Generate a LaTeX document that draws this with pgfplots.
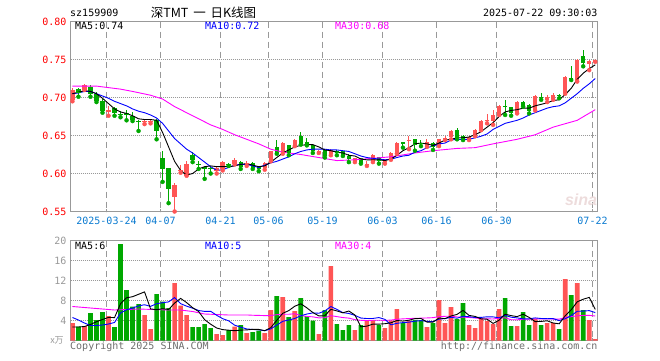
\documentclass[border=0pt]{standalone}
\usepackage{fontspec}
\setmainfont{DejaVu Sans Mono}
\newfontfamily\cjk{Noto Sans CJK SC}
\newfontfamily\lsans{Liberation Sans}
\usepackage{pgfplots}
\usepackage{pgfplotstable}
\pgfplotsset{compat=1.18}
\definecolor{cred}{HTML}{FF5555}
\definecolor{cgreen}{HTML}{00A800}
\definecolor{cdate}{HTML}{0A7AD0}
\definecolor{cblue}{HTML}{0000FF}
\definecolor{cmag}{HTML}{FF00FF}
\definecolor{cgrid}{HTML}{999999}
\definecolor{cframe}{HTML}{999999}
\definecolor{ctext}{HTML}{6E6E6E}
\definecolor{sinac}{HTML}{EDDCDC}
\newcommand\fs{\fontsize{10}{12}\selectfont}

% up (red) candles: index, open, high, low, close, volume (10k)
\pgfplotstableread{
i o h l c v
0 .698 .712 .695 .710 3.5
2 .711 .718 .710 .716 2.9
6 .682 .689 .676 .683 4.9
12 .668 .672 .665 .669 5.1
13 .668 .671 .666 .669 2.3
17 .570 .588 .550 .585 11.5
18 .604 .611 .601 .605 7.0
19 .597 .617 .597 .612 5.1
24 .604 .609 .600 .607 1.3
25 .606 .616 .604 .615 1.1
27 .613 .620 .612 .618 2.8
29 .613 .617 .610 .614 1.5
32 .608 .615 .605 .614 1.5
33 .617 .630 .616 .629 6.1
35 .627 .641 .626 .640 8.7
37 .637 .645 .636 .644 5.9
41 .628 .631 .627 .629 1.3
43 .626 .632 .624 .631 14.9
47 .616 .621 .615 .620 2.1
49 .612 .617 .610 .613 4.0
50 .616 .626 .615 .625 4.1
52 .616 .619 .613 .617 2.5
53 .619 .628 .618 .627 4.0
54 .627 .641 .626 .640 6.3
56 .643 .650 .632 .644 4.0
59 .636 .646 .635 .642 2.7
61 .637 .646 .636 .645 8.1
62 .646 .650 .644 .647 3.5
63 .649 .657 .645 .656 6.7
66 .645 .650 .644 .648 3.1
67 .650 .658 .649 .657 2.5
68 .658 .670 .657 .669 4.3
69 .670 .678 .666 .671 3.9
70 .670 .684 .664 .677 3.3
71 .678 .690 .677 .689 6.3
74 .680 .695 .679 .694 2.9
77 .684 .703 .683 .702 4.3
79 .698 .703 .694 .701 3.5
80 .699 .706 .697 .703 3.5
82 .706 .728 .705 .727 12.3
84 .723 .751 .721 .750 11.5
86 .745 .750 .736 .748 4.1
87 .748 .750 .747 .749 0.3
}\tup

% down (green) candles
\pgfplotstableread{
i o h l c v
1 .711 .712 .701 .707 2.8
3 .714 .716 .701 .705 5.5
4 .705 .707 .694 .696 4.1
5 .696 .698 .680 .683 5.7
7 .686 .687 .676 .680 2.7
8 .678 .682 .674 .677 19.3
9 .679 .683 .670 .678 10.1
10 .676 .681 .669 .671 6.8
11 .669 .670 .656 .668 7.3
14 .671 .672 .645 .656 9.3
15 .620 .629 .589 .607 7.8
16 .607 .607 .561 .580 6.5
20 .625 .628 .615 .618 2.7
21 .613 .617 .606 .612 2.7
22 .608 .609 .593 .607 3.3
23 .607 .610 .600 .606 2.5
26 .613 .614 .610 .612 2.1
28 .615 .616 .606 .609 3.1
30 .614 .615 .606 .608 1.7
31 .609 .610 .603 .607 2.0
34 .635 .644 .626 .628 8.9
36 .637 .638 .624 .628 4.7
38 .650 .655 .638 .639 8.5
39 .641 .647 .637 .640 4.9
40 .638 .638 .627 .630 4.0
42 .631 .632 .621 .624 6.1
44 .630 .631 .624 .627 3.3
45 .629 .630 .623 .624 2.1
46 .623 .626 .615 .620 3.1
48 .620 .621 .613 .615 3.1
51 .622 .622 .613 .617 3.1
55 .641 .642 .634 .640 3.5
57 .645 .646 .630 .638 4.1
58 .640 .644 .636 .639 4.1
60 .640 .642 .631 .636 3.5
64 .657 .660 .645 .648 4.3
65 .649 .651 .644 .645 7.5
72 .689 .697 .677 .688 8.5
73 .687 .688 .676 .680 2.9
75 .694 .695 .688 .690 5.7
76 .690 .692 .679 .683 3.1
78 .701 .706 .697 .700 3.1
81 .703 .705 .699 .702 2.3
83 .726 .742 .723 .725 9.1
85 .755 .762 .741 .746 6.1
}\tdn

% price MA5 / MA10, volume MA5 / MA10
\pgfplotstableread{
i m5 m10 a5 a10
0 .705 .705 2.7 4.6
1 .707 .706 2.7 4.1
2 .709 .708 2.8 3.5
3 .708 .708 3.2 3.0
4 .705 .705 3.76 3.0
5 .699 .702 4.2 3.1
6 .692 .699 4.62 3.3
7 .685 .695 4.58 3.6
8 .681 .692 7.34 5.5
9 .679 .689 8.54 6.15
10 .676 .685 8.76 6.48
11 .672 .682 9.24 6.93
12 .671 .680 9.72 7.15
13 .671 .677 6.32 6.83
14 .670 .673 6.16 7.35
15 .654 .666 6.36 7.56
16 .635 .656 6.2 7.72
17 .616 .646 7.48 8.6
18 .604 .639 8.42 7.37
19 .598 .632 7.58 6.87
20 .600 .627 6.56 6.46
21 .606 .621 5.8 6.0
22 .609 .615 4.16 5.82
23 .610 .609 3.26 5.84
24 .609 .604 2.5 5.04
25 .609 .605 2.18 4.37
26 .609 .608 2.06 3.93
27 .610 .611 1.96 3.06
28 .612 .612 2.08 2.67
29 .613 .612 2.12 2.31
30 .611 .610 2.24 2.21
31 .609 .608 2.22 2.14
32 .610 .611 1.96 1.96
33 .615 .614 2.56 2.32
34 .621 .616 4.04 3.08
35 .627 .619 5.44 3.84
36 .631 .622 5.98 4.1
37 .635 .626 6.86 4.41
38 .637 .629 7.34 4.95
39 .638 .631 6.54 5.29
40 .638 .632 5.6 5.52
41 .635 .632 4.92 5.45
42 .631 .632 4.96 5.91
43 .630 .631 6.24 6.79
44 .628 .631 5.92 6.23
45 .627 .630 5.54 5.57
46 .624 .629 5.9 5.41
47 .623 .626 5.1 5.03
48 .619 .623 2.74 4.49
49 .618 .621 2.88 4.4
50 .618 .620 3.28 4.41
51 .618 .619 3.28 4.59
52 .617 .618 3.36 4.23
53 .619 .619 3.54 3.14
54 .624 .621 4.0 3.44
55 .630 .623 3.88 3.58
56 .634 .624 4.06 3.67
57 .639 .628 4.38 3.87
58 .640 .630 4.4 3.97
59 .639 .634 3.68 3.84
60 .637 .636 3.68 3.78
61 .640 .639 4.5 4.28
62 .644 .640 4.38 4.38
63 .645 .644 4.9 4.65
64 .647 .645 5.22 4.45
65 .647 .645 6.02 4.85
66 .648 .645 5.02 4.76
67 .651 .647 4.82 4.6
68 .655 .649 4.34 4.62
69 .661 .652 4.26 4.74
70 .667 .658 3.42 4.72
71 .675 .662 4.06 4.54
72 .681 .666 5.26 5.04
73 .683 .668 4.98 4.66
74 .684 .670 4.78 4.52
75 .686 .673 5.26 4.34
76 .686 .677 4.62 4.34
77 .689 .680 3.78 4.52
78 .691 .683 3.82 4.4
79 .693 .686 3.94 4.36
80 .696 .688 3.5 4.38
81 .697 .689 3.34 3.98
82 .704 .693 4.94 4.36
83 .712 .699 6.14 4.98
84 .724 .705 7.74 5.84
85 .732 .712 8.26 5.88
86 .738 .718 8.62 5.98
87 .743 .725 6.22 5.58
}\tma

% price MA30
\pgfplotstableread{
i m30
0 .715
4 .715
6 .713
8 .711
10 .708
13 .703
15 .698
17 .688
19 .680
21 .672
23 .664
25 .658
27 .651
29 .645
31 .639
33 .632
35 .628
38 .625
41 .621
44 .617
47 .618
50 .620
53 .622
57 .627
60 .630
64 .633
67 .634
70 .639
74 .645
77 .651
80 .661
84 .670
87 .684
}\tmb

% volume MA30
\pgfplotstableread{
i a30
0 6.8
5 6.3
7 6.1
11 6.3
16 6.1
18 6.1
20 5.8
22 5.3
26 5.1
28 5.1
29 5.11
30 5.05
31 5.02
32 4.98
33 5.00
34 5.16
35 5.26
36 5.25
37 5.36
38 5.00
39 4.82
40 4.73
41 4.53
42 4.56
43 4.98
44 4.78
45 4.59
46 4.48
47 4.17
48 4.04
49 4.00
50 4.05
51 4.06
52 4.03
53 4.08
54 4.25
55 4.33
56 4.39
57 4.44
58 4.47
59 4.51
60 4.57
61 4.77
62 4.84
63 4.86
64 4.71
65 4.67
66 4.61
67 4.50
68 4.36
69 4.33
70 4.30
71 4.47
72 4.55
73 4.15
74 4.14
75 4.26
76 4.26
77 4.33
78 4.33
79 4.31
80 4.29
81 4.27
82 4.59
83 4.76
84 4.94
85 5.02
86 5.03
87 4.90
}\tvc

\pgfplotsset{
  chartbase/.style={
    scale only axis, anchor=south west, width=527pt,
    xmin=-0.3245, xmax=87.377,
    axis line style={draw=cframe, line width=1pt},
    xtick={5.6665,14.653,24.638,32.626,41.613,51.598,60.584,70.569,86.545},
    ytick style={draw=none},
    xtick style={draw=cframe, line width=1pt},
    major tick length=2.5pt,
    tick align=inside,
    ticklabel style={font=\fs},
    yticklabel style={anchor=east, inner sep=0pt, xshift=-3.8pt},
  },
  wick/.style={only marks, mark=none, error bars/.cd, y dir=plus, y explicit,
    error mark=none, error bar style={line width=1pt, solid}},
  body/.style={only marks, mark=-, mark size=2.2pt, mark options={line width=1pt, solid},
    error bars/.cd, y dir=plus, y explicit, error mark=none,
    error bar style={line width=4.4pt, solid}},
}
\tikzset{
  vgrid/.style={draw=cgrid, line width=1.2pt, dash pattern=on 6pt off 4pt},
  hgrid/.style={draw=cgrid, line width=1.2pt, dash pattern=on 1pt off 1pt},
}

\begin{document}
\begin{tikzpicture}
\path[use as bounding box] (0,0) rectangle (660pt,360pt);

% ---------- grid lines (background) ----------
\foreach \gx in {106.5,160.5,220.5,268.5,322.5,382.5,436.5,496.5,592.5} {
  \draw[vgrid] (\gx pt,338.5pt) -- (\gx pt,148.5pt);
  \draw[vgrid] (\gx pt,119.5pt) -- (\gx pt,19.5pt);
}
\foreach \gy in {300.5,262.5,224.5,186.5,99.5,79.5,59.5,39.5} {
  \draw[hgrid] (70.5pt,\gy pt) -- (597.5pt,\gy pt);
}

% ---------- price panel ----------
\begin{axis}[chartbase, at={(70.5pt,148.5pt)}, height=190pt,
  ymin=0.55, ymax=0.80,
  ytick={0.55,0.60,0.65,0.70,0.75,0.80},
  yticklabels={0.55,0.60,0.65,0.70,0.75,0.80},
  yticklabel style={text=red},
  xticklabels={2025-03-24,04-07,04-21,05-06,05-19,06-03,06-16,06-30,07-22},
  xticklabel style={text=cdate, anchor=north, inner sep=0pt, yshift=-5.3pt},
  xtick pos=lower,
]
\addplot[cred, wick] table[x=i, y=l, y error expr=\thisrow{h}-\thisrow{l}] {\tup};
\addplot[cred, body] table[x=i, y=o, y error expr=\thisrow{c}-\thisrow{o}] {\tup};
\addplot[cgreen, wick] table[x=i, y=l, y error expr=\thisrow{h}-\thisrow{l}] {\tdn};
\addplot[cgreen, body] table[x=i, y=c, y error expr=\thisrow{o}-\thisrow{c}] {\tdn};
\addplot[cmag, line width=0.9pt, mark=none] table[x=i, y=m30] {\tmb};
\addplot[cblue, line width=0.9pt, mark=none] table[x=i, y=m10] {\tma};
\addplot[black, line width=0.9pt, mark=none] table[x=i, y=m5] {\tma};
\end{axis}

% ---------- volume panel ----------
\begin{axis}[chartbase, at={(70.5pt,19.5pt)}, height=100pt,
  ymin=0, ymax=20,
  ytick={4,8,12,16,20},
  yticklabels={4,8,12,16,20},
  yticklabel style={text=cframe},
  xticklabels={},
]
\addplot[ybar, bar width=4.6pt, bar shift=0pt, fill=cred, draw=none] table[x=i, y=v] {\tup};
\addplot[ybar, bar width=4.6pt, bar shift=0pt, fill=cgreen, draw=none] table[x=i, y=v] {\tdn};
\addplot[cmag, line width=0.9pt, mark=none] table[x=i, y=a30] {\tvc};
\addplot[cblue, line width=0.9pt, mark=none] table[x=i, y=a10] {\tma};
\addplot[black, line width=0.9pt, mark=none] table[x=i, y=a5] {\tma};
\end{axis}

% ---------- texts ----------
\node[anchor=base west, inner sep=0pt, font=\fs] at (70pt,343.3pt) {sz159909};
\node[anchor=base, inner sep=0pt, font={\cjk\fontsize{12.5}{14}\selectfont}] at (203.5pt,342.5pt) {深TMT\,\ 一\,\ 日K线图};
\node[anchor=base east, inner sep=0pt, font=\fs] at (597.7pt,343.3pt) {2025-07-22 09:30:03};
\node[anchor=base west, inner sep=0pt, font=\fs] at (75pt,330.7pt) {MA5:0.74};
\node[anchor=base west, inner sep=0pt, font=\fs, text=cblue] at (205pt,330.7pt) {MA10:0.72};
\node[anchor=base west, inner sep=0pt, font=\fs, text=cmag] at (335pt,330.7pt) {MA30:0.68};
\node[anchor=base west, inner sep=0pt, font=\fs] at (75pt,110.2pt) {MA5:6};
\node[anchor=base west, inner sep=0pt, font=\fs, text=cblue] at (205pt,110.2pt) {MA10:5};
\node[anchor=base west, inner sep=0pt, font=\fs, text=cmag] at (335pt,110.2pt) {MA30:4};
\node[anchor=base west, inner sep=0pt, font=\fs, text=ctext] at (70pt,10.3pt) {Copyright 2025 SINA.COM};
\node[anchor=base east, inner sep=0pt, font=\fs, text=ctext] at (597.7pt,10.3pt) {http://finance.sina.com.cn};
\node[inner sep=0pt, font={\cjk\fontsize{9}{10}\selectfont}, text=cframe] at (57pt,20pt) {x万};
\node[anchor=base, inner sep=0pt, font={\lsans\bfseries\itshape\fontsize{16}{16}\selectfont}, text=sinac] at (581pt,155pt) {sina};
\end{tikzpicture}
\end{document}
